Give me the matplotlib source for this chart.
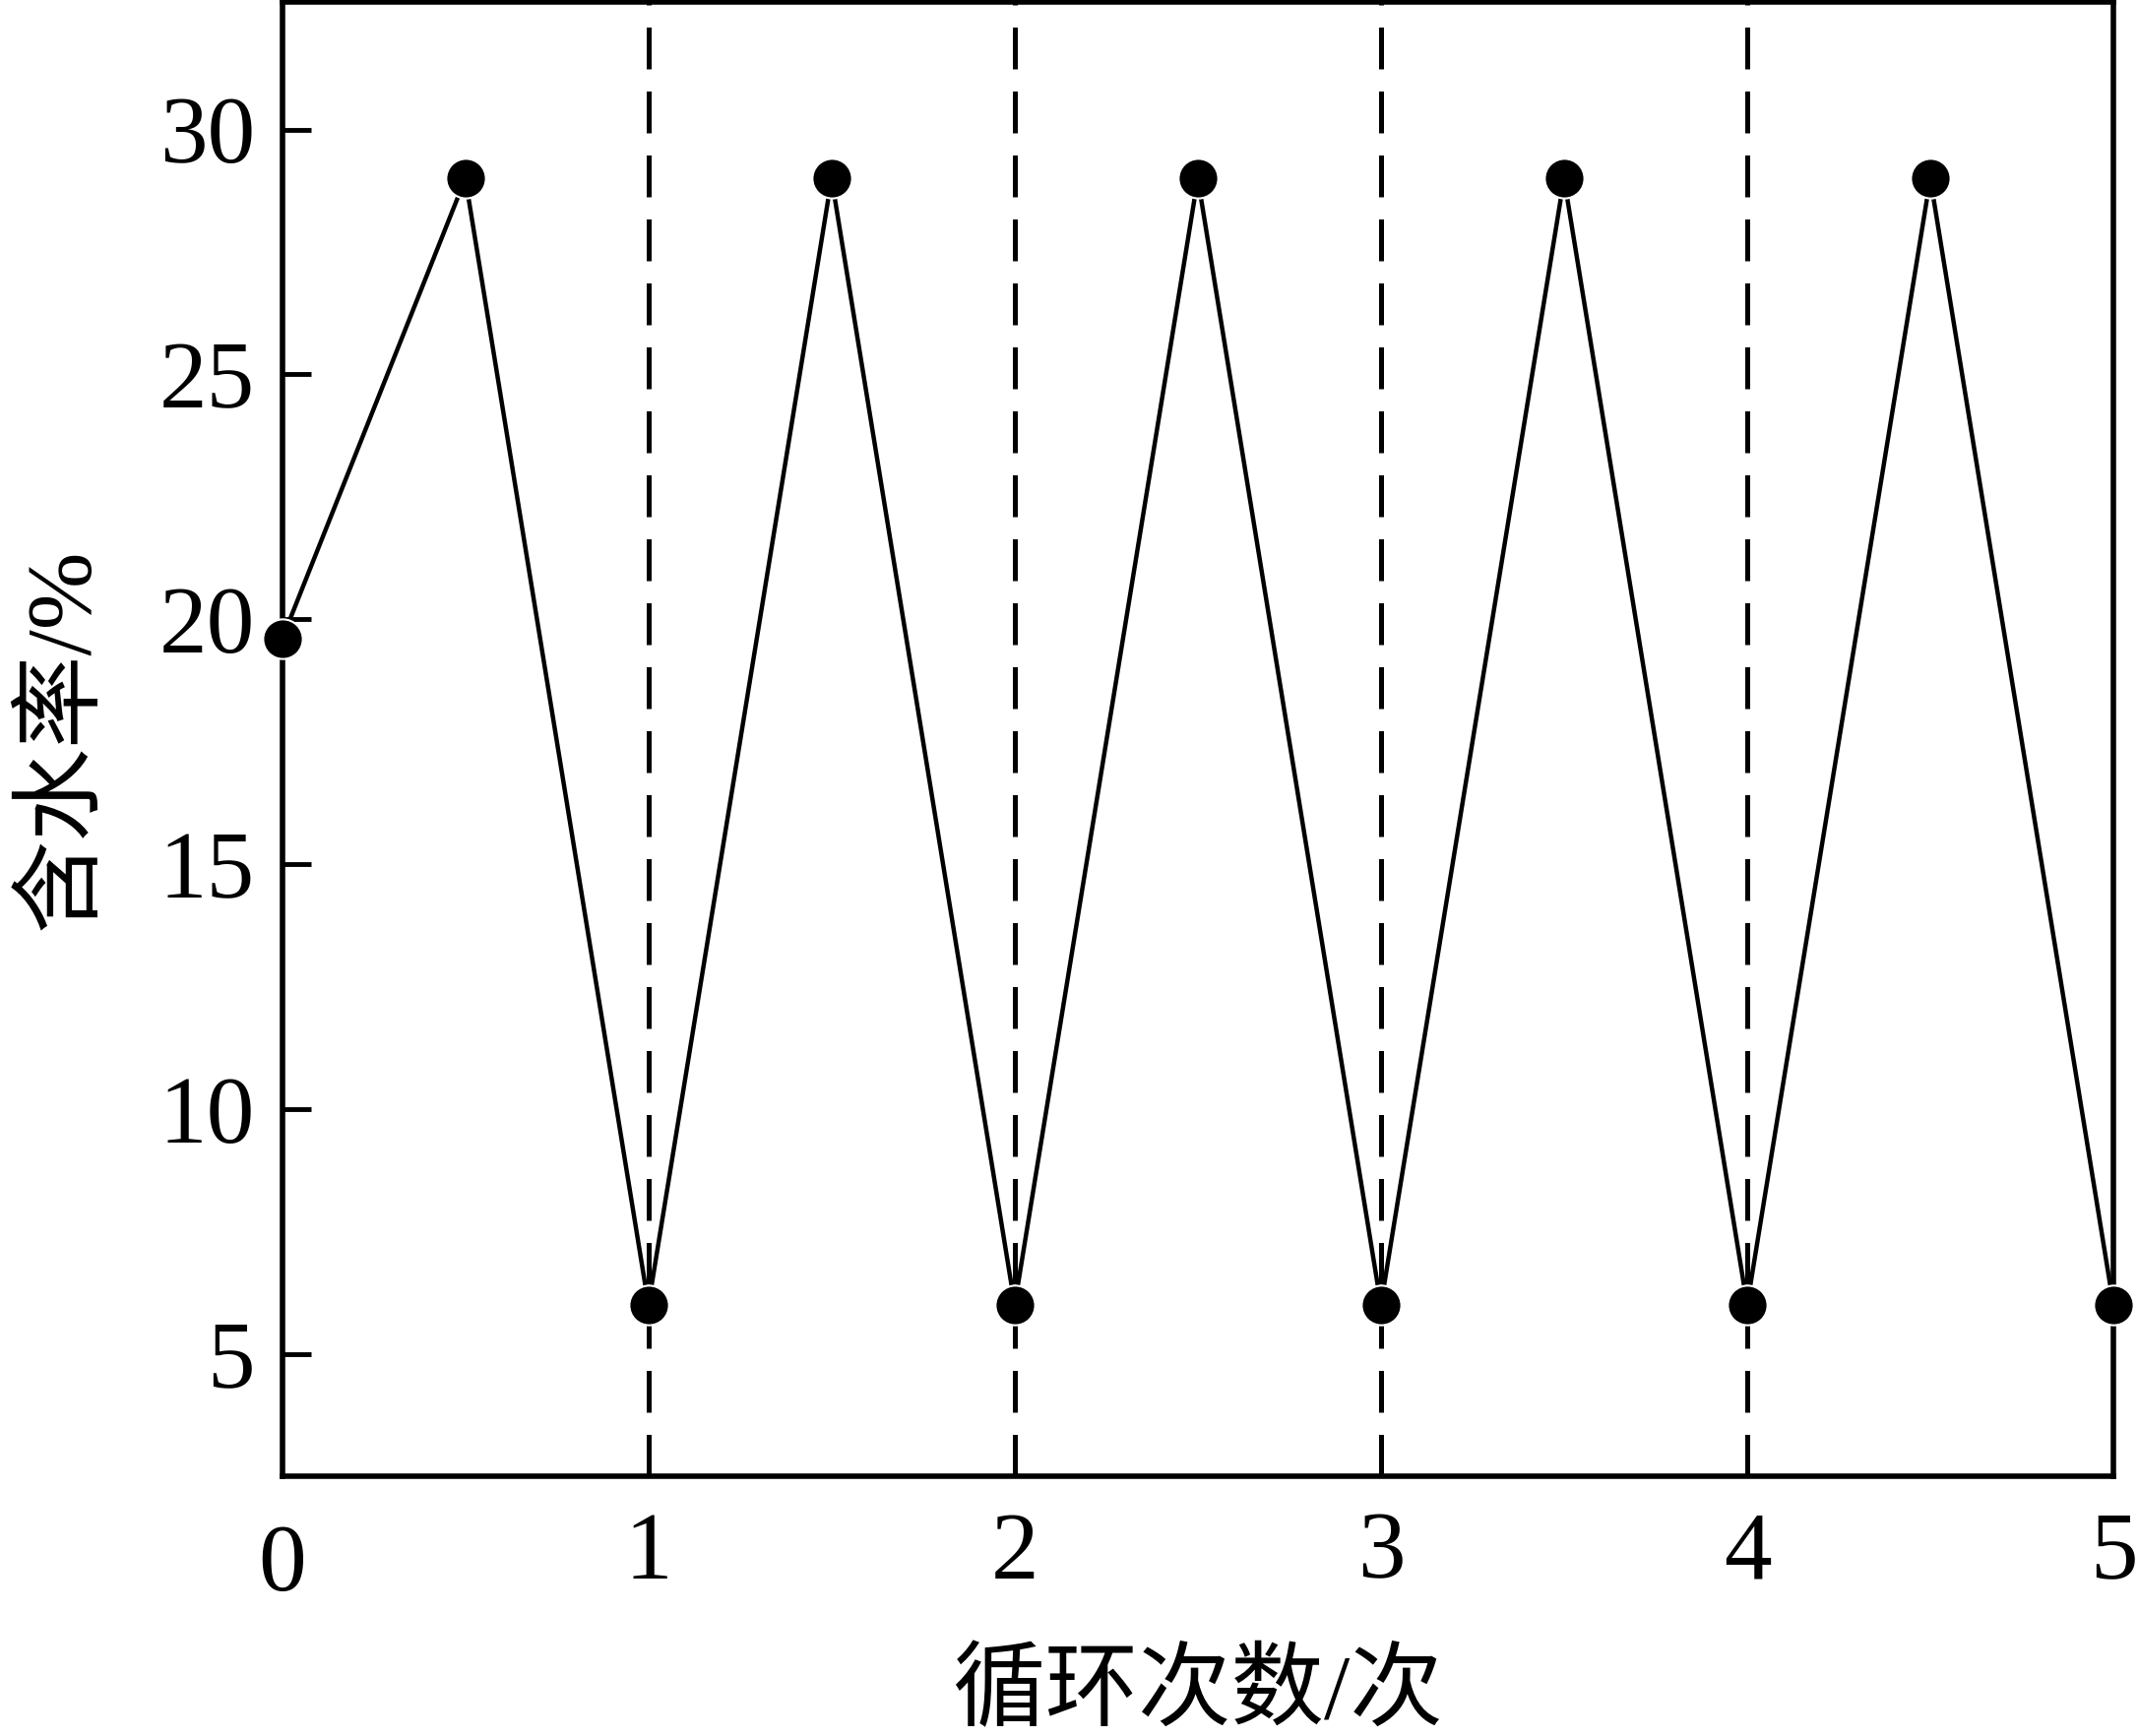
import matplotlib
matplotlib.use('Agg')
from matplotlib import pyplot as plt
import matplotlib.transforms as mtransforms

# 字体：数字用Times类，中文用CJK
plt.rcParams['font.family'] = ['Liberation Serif', 'Noto Sans CJK SC']
plt.rcParams['axes.unicode_minus'] = False

# 数据
cycles = [0, 0.5, 1, 1.5, 2, 2.5, 3, 3.5, 4, 4.5, 5]
water_content = [19.6, 29, 6, 29, 6, 29, 6, 29, 6, 29, 6]
cycle_marks = [1, 2, 3, 4]
x_ticks = [0, 1, 2, 3, 4, 5]
y_ticks = [5, 10, 15, 20, 25, 30]

fig = plt.figure(figsize=(21.72, 17.64), dpi=100)
ax = fig.add_axes([0.132, 0.1497, 0.8565, 0.849])

for c in cycle_marks:
    ax.axvline(c, color='black', lw=3.6, linestyle=(0, (8.5, 4.5)), zorder=1)

ax.plot(cycles, water_content, color='black', lw=3.2, zorder=2)
ax.plot(cycles, water_content, 'o', color='black', markersize=29,
        markeredgecolor='white', markeredgewidth=1.5, zorder=3, clip_on=False)

ax.set_xlim(0, 5)
ax.set_ylim(2.5, 32.6)
ax.set_xticks(x_ticks)
ax.set_yticks(y_ticks)

ax.tick_params(axis='y', direction='in', length=21, width=3.5, labelsize=70, pad=20)
ax.tick_params(axis='x', direction='in', length=0, labelsize=70, pad=26)
for s in ax.spines.values():
    s.set_linewidth(4)

# 0 标签略低
lbl0 = ax.get_xticklabels()[0]
lbl0.set_transform(lbl0.get_transform() + mtransforms.ScaledTranslation(0, -12 / 100, fig.dpi_scale_trans))

ax.set_xlabel('循环次数/次', fontsize=68, labelpad=30)
ax.set_ylabel('含水率/%', fontsize=68, labelpad=38)

plt.savefig('out.png', dpi=100)
